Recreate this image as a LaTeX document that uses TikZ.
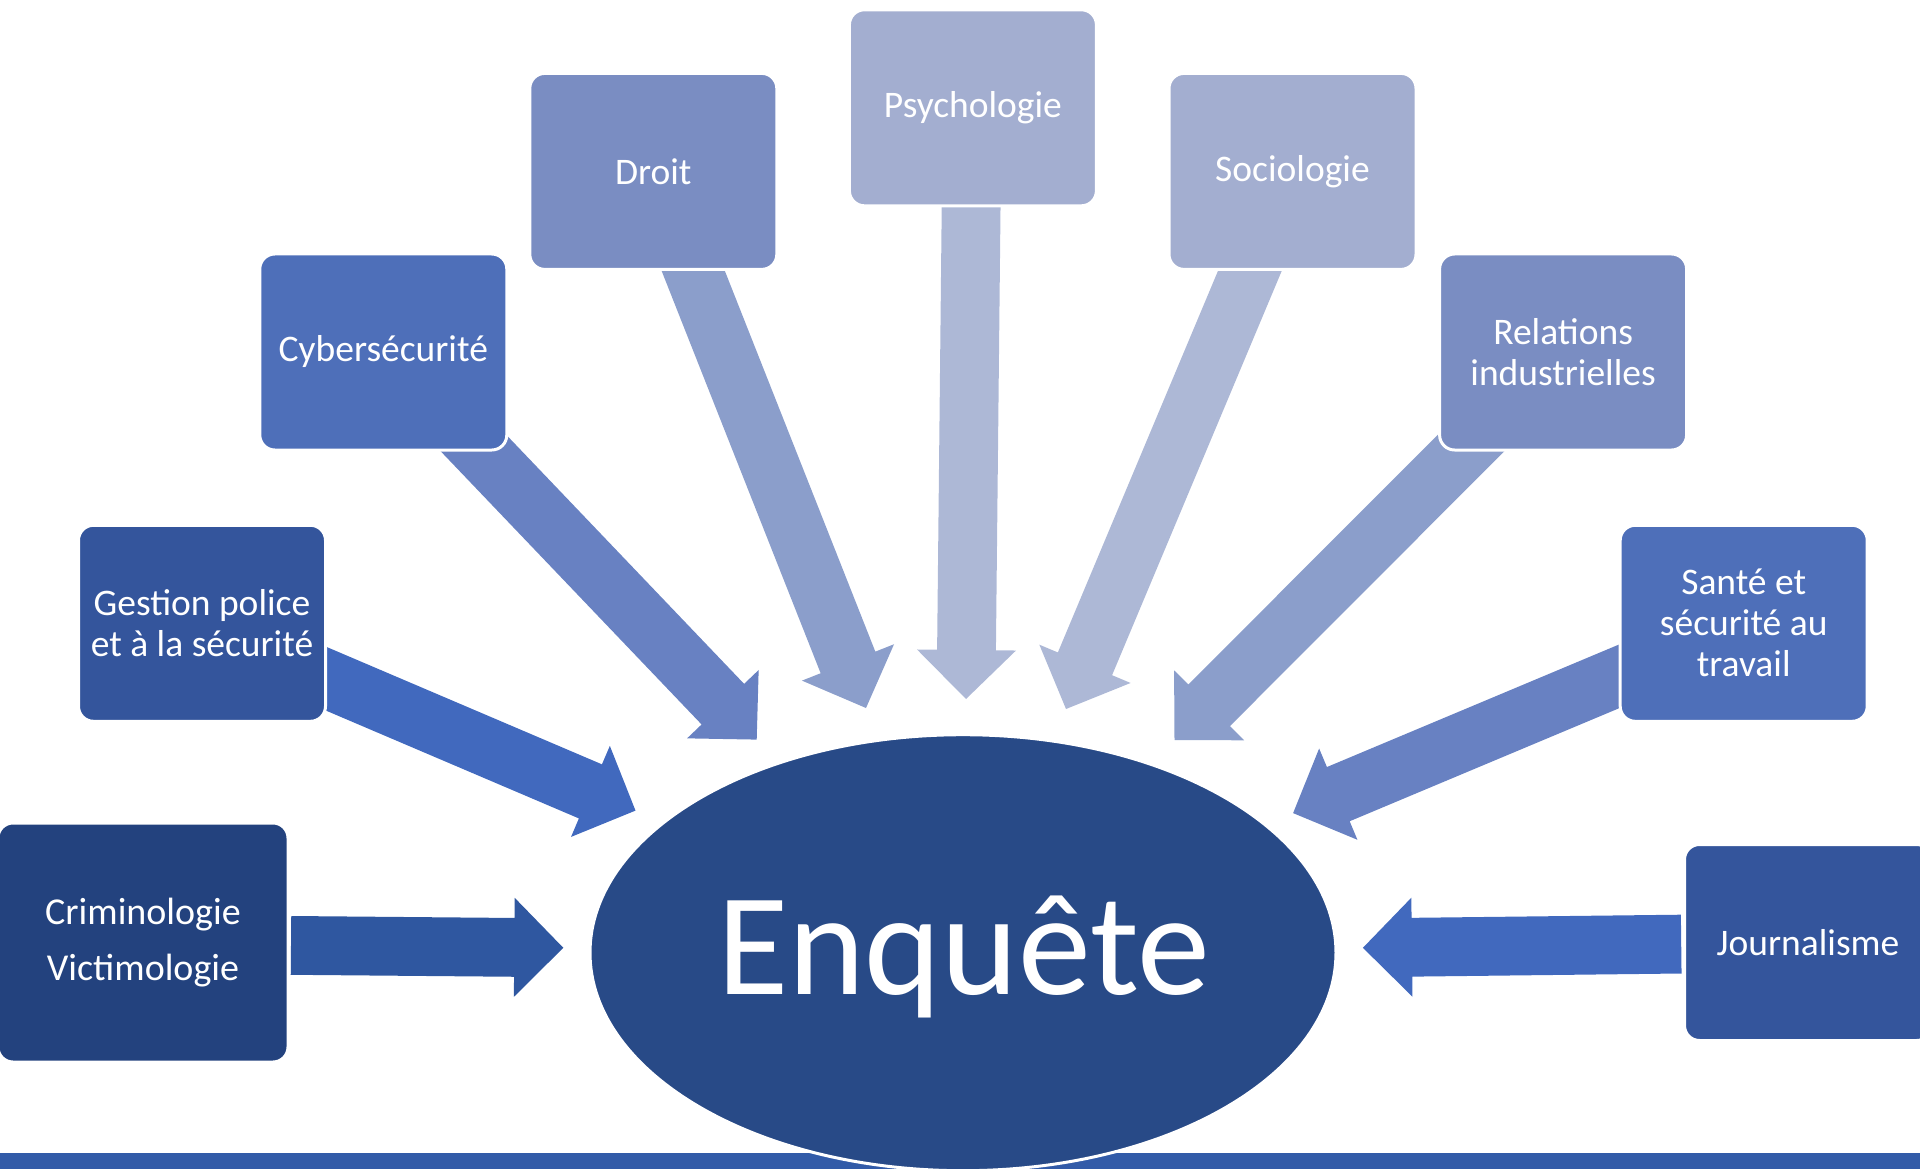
\documentclass[tikz,border=0pt]{standalone}
\usepackage{fontspec}
\setmainfont{Carlito}
\usetikzlibrary{calc,shapes.geometric}
\definecolor{cCrim}{HTML}{23427E}
\definecolor{cGest}{HTML}{34559C}
\definecolor{cCyb}{HTML}{4E6FB9}
\definecolor{cDroit}{HTML}{7A8DC2}
\definecolor{cPsy}{HTML}{A3AED0}
\definecolor{cEll}{HTML}{284A87}
\definecolor{cBar}{HTML}{325BA8}
\definecolor{aCrim}{HTML}{2F57A0}
\definecolor{aGest}{HTML}{4169BE}
\definecolor{aCyb}{HTML}{6881C2}
\definecolor{aDroit}{HTML}{8B9ECB}
\definecolor{aPsy}{HTML}{ADB8D6}
\newcommand{\fatarrow}[3]{%
  \coordinate (#2-h) at ($(#2)!49pt!(#1)$);
  \fill[#3] ($(#1)!29.4pt!90:(#2)$) -- ($(#2-h)!29.4pt!-90:(#1)$) -- ($(#2-h)!49.5pt!-90:(#1)$) -- (#2) -- ($(#2-h)!49.5pt!90:(#1)$) -- ($(#2-h)!29.4pt!90:(#1)$) -- ($(#1)!29.4pt!-90:(#2)$) -- cycle;}
\tikzset{
  box/.style={rectangle, rounded corners=15pt, draw=white, line width=3pt,
    minimum width=247pt, minimum height=196pt, inner sep=0pt, text=white,
    align=center, font=\fontsize{37.5}{41}\selectfont},
}
\begin{document}
\begin{tikzpicture}[x=1pt,y=-1pt]
\useasboundingbox (0,0) rectangle (1920,1169);
% bottom bar
\fill[cBar] (0,1152.5) rectangle (1920,1175);
% arrow tails and tips
\coordinate (tCrim) at (291,945.4);   \coordinate (pCrim) at (563.3,947.8);
\coordinate (tGest) at (291.4,663.9); \coordinate (pGest) at (635.5,810.6);
\coordinate (tCyb) at (440,408);      \coordinate (pCyb) at (756.7,739.6);
\coordinate (tDroit) at (683,245);    \coordinate (pDroit) at (866,708);
\coordinate (tPsy) at (971.3,190);    \coordinate (pPsy) at (966,699);
\coordinate (tSoc) at (1260.6,245.3); \coordinate (pSoc) at (1066,709);
\coordinate (tRel) at (1497,417);     \coordinate (pRel) at (1174.5,740);
\coordinate (tSan) at (1655.7,661);   \coordinate (pSan) at (1293.1,813.1);
\coordinate (tJour) at (1681.2,944.1);\coordinate (pJour) at (1362.9,947.8);
\fatarrow{tCrim}{pCrim}{aCrim}
\fatarrow{tGest}{pGest}{aGest}
\fatarrow{tCyb}{pCyb}{aCyb}
\fatarrow{tDroit}{pDroit}{aDroit}
\fatarrow{tPsy}{pPsy}{aPsy}
\fatarrow{tSoc}{pSoc}{aPsy}
\fatarrow{tRel}{pRel}{aDroit}
\fatarrow{tSan}{pSan}{aCyb}
\fatarrow{tJour}{pJour}{aGest}
% boxes
\node[box, fill=cCrim, minimum width=290pt, minimum height=239pt,
  font=\fontsize{38}{56}\selectfont] (crim) at (143,942.5) {Criminologie\\Victimologie};
\node[box, fill=cGest] (gest) at (202,623.3) {Gestion police\\et à la sécurité};
\node[box, fill=cCyb] (cyb) at (383.3,352) {Cybersécurité};
\node[box, fill=cDroit] (droit) at (653.3,171.4) {Droit};
\node[box, fill=cPsy] (psy) at (972.9,107.8) {Psychologie};
\node[box, fill=cPsy] (soc) at (1292.5,171.4) {Sociologie};
\node[box, fill=cDroit] (rel) at (1563.1,352) {Relations\\industrielles};
\node[box, fill=cCyb] (san) at (1743.7,623.3) {Santé et\\sécurité au\\travail};
\node[box, fill=cGest] (jour) at (1808,942.5) {Journalisme};
% central ellipse
\node[ellipse, fill=cEll, draw=white, line width=3pt, minimum width=746pt,
  minimum height=436pt, inner sep=0pt] (enq) at (963,952.7) {};
\node[anchor=base, text=white, inner sep=0pt, font=\fontsize{146}{146}\selectfont]
  (enqt) at (963.7,994) {Enquête};
\end{tikzpicture}
\end{document}
